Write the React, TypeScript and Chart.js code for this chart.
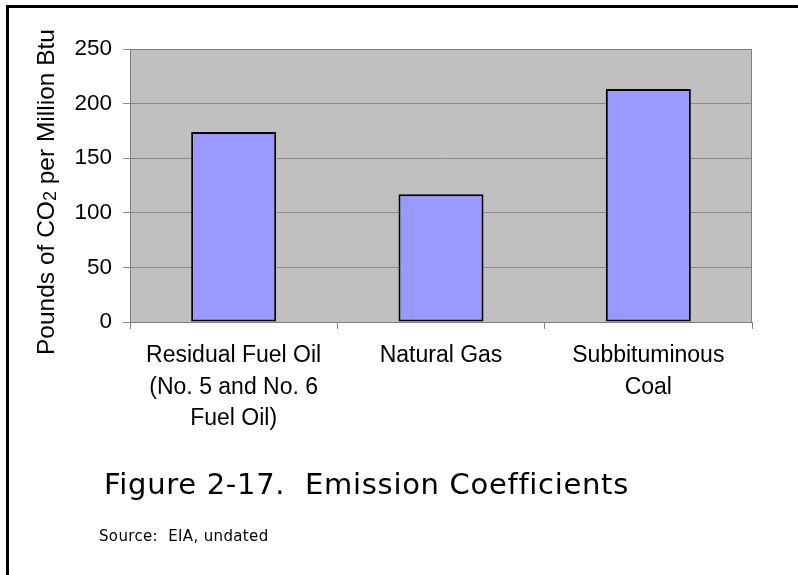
import React, { useEffect, useRef } from "react";
import { Chart, registerables } from "chart.js";

Chart.register(...registerables);

const categories: string[][] = [
  ["Residual Fuel Oil", "(No. 5 and No. 6", "Fuel Oil)"],
  ["Natural Gas"],
  ["Subbituminous", "Coal"],
];
const values: number[] = [173.9, 117.1, 213.4];
const yMin = 0;
const yMax = 250;
const yStep = 50;
const yTitleParts: string[] = ["Pounds of CO", "2", " per Million Btu"];
const captionText = "Figure 2-17.  Emission Coefficients";
const sourceText = "Source:  EIA, undated";

const SANS = '"Liberation Sans", Arial, sans-serif';
const VERDANA = '"DejaVu Sans", Verdana, sans-serif';

const plotBg = {
  id: "plotBg",
  beforeDraw(chart: any) {
    const { ctx, chartArea: a } = chart;
    ctx.save();
    ctx.fillStyle = "#C0C0C0";
    ctx.fillRect(a.left, a.top, a.right - a.left, a.bottom - a.top);
    ctx.restore();
  },
  beforeDatasetsDraw(chart: any) {
    const { ctx, chartArea: a } = chart;
    ctx.save();
    ctx.strokeStyle = "#808080";
    ctx.lineWidth = 1;
    ctx.strokeRect(a.left + 0.5, a.top + 0.5, a.right - a.left - 1, a.bottom - a.top);
    ctx.restore();
  },
};

const yTitlePlugin = {
  id: "yTitle",
  afterDraw(chart: any) {
    const { ctx } = chart;
    const big = `24.5px ${SANS}`;
    const small = `18px ${SANS}`;
    ctx.save();
    ctx.translate(45, 192);
    ctx.rotate(-Math.PI / 2);
    ctx.fillStyle = "#000";
    ctx.textBaseline = "alphabetic";
    ctx.textAlign = "left";
    ctx.font = big;
    const w0 = ctx.measureText(yTitleParts[0]).width;
    const w2 = ctx.measureText(yTitleParts[2]).width;
    ctx.font = small;
    const w1 = ctx.measureText(yTitleParts[1]).width;
    const total = w0 + w1 + w2;
    let x = -total / 2;
    const base = 8.5;
    ctx.font = big;
    ctx.fillText(yTitleParts[0], x, base);
    x += w0;
    ctx.font = small;
    ctx.fillText(yTitleParts[1], x, base + 2.5);
    x += w1;
    ctx.font = big;
    ctx.fillText(yTitleParts[2], x, base);
    ctx.restore();
  },
};

function App() {
  const ref = useRef<HTMLCanvasElement | null>(null);

  useEffect(() => {
    if (!ref.current) return;
    const chart = new Chart(ref.current, {
      type: "bar",
      data: {
        labels: categories,
        datasets: [
          {
            data: values,
            backgroundColor: "#9999FF",
            borderColor: "#000000",
            borderWidth: 2,
            borderSkipped: false,
            categoryPercentage: 1,
            barPercentage: 0.41,
          },
        ],
      },
      options: {
        animation: false,
        responsive: false,
        devicePixelRatio: 1,
        layout: { padding: { left: 0, right: 46, top: 49, bottom: 0 } },
        plugins: {
          legend: { display: false },
          tooltip: { enabled: false },
        },
        scales: {
          x: {
            grid: {
              drawOnChartArea: false,
              drawTicks: true,
              tickLength: 7,
              color: "#808080",
              offset: true,
            },
            border: { color: "#808080", width: 1 },
            ticks: {
              color: "#000",
              font: { family: SANS, size: 23, lineHeight: 1.37 },
              padding: 11,
              maxRotation: 0,
              autoSkip: false,
            },
            afterFit(scale: any) {
              scale.height = 138;
            },
          },
          y: {
            min: yMin,
            max: yMax,
            grid: { color: "#8a8a8a", tickLength: 7, drawTicks: true },
            border: { color: "#808080", width: 1 },
            ticks: {
              stepSize: yStep,
              color: "#000",
              font: { family: SANS, size: 22.5 },
              padding: 11,
            },
            afterFit(scale: any) {
              scale.width = 130;
            },
          },
        },
      },
      plugins: [plotBg, yTitlePlugin],
    });
    return () => chart.destroy();
  }, []);

  return (
    <div
      style={{
        position: "absolute",
        left: 0,
        top: 0,
        width: 798,
        height: 575,
        overflow: "hidden",
        background: "#fff",
      }}
    >
      <canvas
        ref={ref}
        width={798}
        height={460}
        style={{ position: "absolute", left: 0, top: 0, width: 798, height: 460 }}
      />
      <div
        style={{
          position: "absolute",
          left: 6,
          top: 5,
          width: 792,
          height: 570,
          borderTop: "3px solid #000",
          borderLeft: "3px solid #000",
          boxSizing: "border-box",
        }}
      />
      <div
        style={{
          position: "absolute",
          left: 104,
          top: 470,
          fontFamily: VERDANA,
          fontSize: 29,
          lineHeight: "29px",
          letterSpacing: "0.7px",
          whiteSpace: "pre",
          color: "#000",
        }}
      >
        {captionText}
      </div>
      <div
        style={{
          position: "absolute",
          left: 99,
          top: 529,
          fontFamily: VERDANA,
          fontSize: 15,
          lineHeight: "15px",
          letterSpacing: "0.35px",
          whiteSpace: "pre",
          color: "#000",
        }}
      >
        {sourceText}
      </div>
    </div>
  );
}

export default App;
